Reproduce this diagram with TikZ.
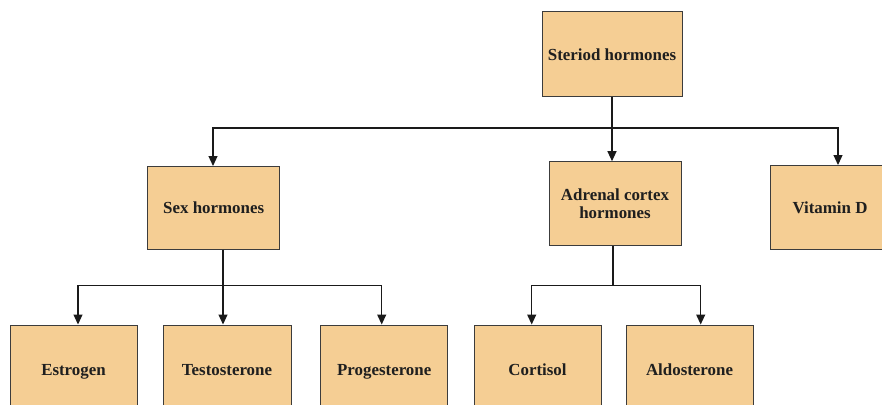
\documentclass[tikz,border=0pt]{standalone}
\usepackage{fontspec}
\setmainfont{Liberation Serif}
\usetikzlibrary{arrows.meta}
\definecolor{boxfill}{HTML}{F5CE94}
\definecolor{boxline}{HTML}{3C3C3C}
\definecolor{conn}{HTML}{1A1A1A}
\tikzset{
  hbox/.style={draw=boxline, line width=1pt, fill=boxfill, inner sep=0pt, align=center,
    font=\fontsize{16.9}{17.7}\selectfont\bfseries, text=black!88},
  oneline/.style={text height=14pt, text depth=1.5pt},
  conline/.style={draw=conn, line width=1.2pt},
  arr/.style={conline, -{Triangle[length=10pt,width=9pt]}},
}
\begin{document}
\begin{tikzpicture}[x=1pt,y=-1pt]
\useasboundingbox (0,0) rectangle (882,404);
\clip (0,0) rectangle (882,404);
% boxes
\node[hbox, oneline, minimum width=140, minimum height=84] (ster) at (612,54) {Steriod hormones};
\node[hbox, oneline, minimum width=132, minimum height=83] (sex) at (213.7,207.5) {Sex hormones};
\node[hbox, minimum width=132, minimum height=84] (adr) at (615,203.7) {Adrenal cortex\\hormones};
\node[hbox, oneline, minimum width=120, minimum height=84] (vit) at (830,207) {Vitamin D};
\node[hbox, oneline, minimum width=127, minimum height=88] (est) at (73.5,369) {Estrogen};
\node[hbox, oneline, minimum width=128, minimum height=88] (tes) at (227,369) {Testosterone};
\node[hbox, oneline, minimum width=127, minimum height=88] (pro) at (384.2,369) {Progesterone};
\node[hbox, oneline, minimum width=127, minimum height=88] (cor) at (537.5,369) {Cortisol};
\node[hbox, oneline, minimum width=127, minimum height=88] (ald) at (689.5,369) {Aldosterone};
% junctions
\coordinate (j1) at (612,128);
\coordinate (j2) at (223,285.5);
\coordinate (j3) at (613,285.5);
\coordinate (vitin) at (838,165);
% top level
\draw[arr] (ster.south) -- (ster.south |- adr.north);
\draw[arr] (j1) -| (213,166);
\draw[arr] (j1) -| (vitin);
% sex hormones branch
\draw[conline] ([xshift=9.3pt]sex.south) -- (j2);
\draw[arr] (j2) -| ([xshift=4.5pt]est.north);
\draw[arr] (j2) -- ([xshift=-4pt]tes.north);
\draw[arr] (j2) -| ([xshift=-2.5pt]pro.north);
% adrenal branch
\draw[conline] ([xshift=-2pt]adr.south) -- (j3);
\draw[arr] (j3) -| ([xshift=-5.8pt]cor.north);
\draw[arr] (j3) -| ([xshift=11.2pt]ald.north);
\end{tikzpicture}
\end{document}
